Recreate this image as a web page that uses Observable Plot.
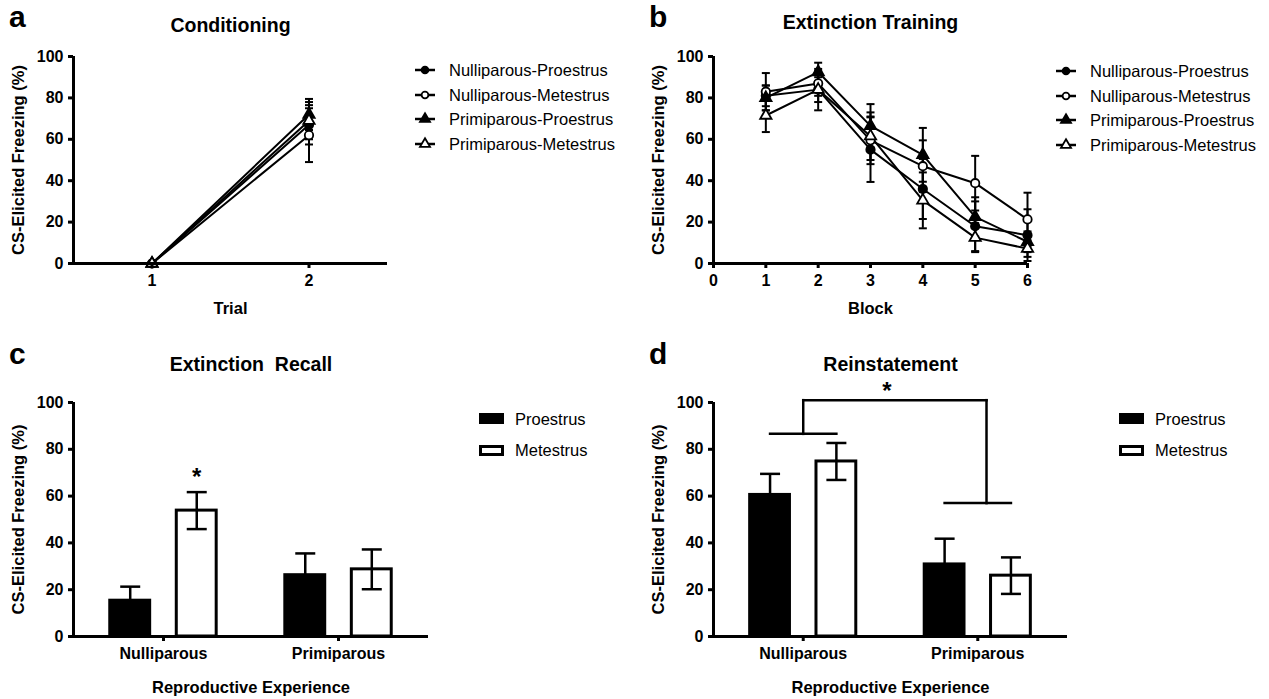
<!DOCTYPE html>
<html><head><meta charset="utf-8">
<script src="https://cdn.jsdelivr.net/npm/d3@7"></script>
<script src="https://cdn.jsdelivr.net/npm/@observablehq/plot@0.6"></script>
<style>
body{margin:0;background:#fff;}
#fig{position:relative;width:1269px;height:699px;background:#fff;font-family:'Liberation Sans',Arial,Helvetica,sans-serif;color:#000;overflow:hidden}
.panel{position:absolute}
.letter{position:absolute;font-weight:bold;font-size:30px;line-height:1}
.leg{position:absolute;font-size:16.5px;line-height:1}
.leg .row{display:flex;align-items:center;height:24.5px}
.bleg{position:absolute;font-size:16.5px;line-height:1}
.bleg .row{display:flex;align-items:center;height:31.5px}
.sw{box-sizing:border-box;width:25px;height:11px;border:3px solid #000;margin-right:11px}
</style></head><body><div id="fig"></div>
<script>
// ---------- data ----------
const seriesNames = ["Nulliparous-Proestrus", "Nulliparous-Metestrus", "Primiparous-Proestrus", "Primiparous-Metestrus"];
const yTicks = [0, 20, 40, 60, 80, 100];

// a: Conditioning
const trials = [1, 2];
const condMeans = [[0, 67], [0, 62], [0, 72], [0, 69]];
const condSems  = [[0, 9.5], [0, 13], [0, 7.5], [0, 9]];

// b: Extinction Training
const blocks = [1, 2, 3, 4, 5, 6];
const blockTicks = [0, 1, 2, 3, 4, 5, 6];
const extMeans = [
  [81, 84, 55, 36, 18, 13.7],
  [83, 87, 59.5, 47, 38.8, 21.3],
  [80, 92.5, 66.5, 52.5, 22.5, 10.5],
  [71.5, 84, 61.5, 30.5, 12.5, 7.2]
];
const extSems = [
  [5, 6, 15.6, 14.5, 12, 12.5],
  [9, 6, 11.5, 12.5, 13.2, 12.9],
  [6, 4.5, 10.5, 13, 9.5, 5],
  [8, 10, 11.5, 13.5, 7, 4]
];

// c, d: bars
const groups = ["Nulliparous", "Primiparous"];
const phases = ["Proestrus", "Metestrus"];
const recallMeans = [[15.3, 53.8], [26.2, 28.7]];
const recallSems  = [[6, 7.9], [9.3, 8.5]];
const reinstMeans = [[60.5, 74.8], [30.8, 26]];
const reinstSems  = [[9, 7.9], [11, 7.8]];
const recallStar = {group: "Nulliparous", phase: "Metestrus", y: 70.5};
const reinstBracket = {leftY: 86.6, topY: 101, rightY: 57, starY: 107.5};

// ---------- helpers ----------
const FONT = "'Liberation Sans', Arial, Helvetica, sans-serif";
const yLabel = "CS-Elicited Freezing (%)";
const hline = {draw(context, size) { const w = Math.sqrt(size / Math.PI); context.moveTo(-w, 0); context.lineTo(w, 0); }};
const symOf = name => name.startsWith("Nulliparous") ? "circle" : "triangle";
const fillOf = name => name.endsWith("Proestrus") ? "black" : "white";
const baseStyle = {fontFamily: FONT, fontWeight: "bold", color: "black", background: "white", overflow: "visible"};

function commonMarks(xDomain, xTicks, xTickFormat, title, titleDy, xLabel, xLabelDy) {
  return [
    Plot.axisY({ticks: yTicks, tickSize: 5, tickPadding: 5, strokeWidth: 3, fontSize: 16, label: null}),
    Plot.axisX({ticks: xTicks, tickSize: 5, tickPadding: 6, strokeWidth: 3, fontSize: 16, label: null, tickFormat: xTickFormat}),
    Plot.ruleX([xDomain[0]], {strokeWidth: 3}),
    Plot.ruleY([0], {strokeWidth: 3}),
    Plot.text([title], {text: d => d, frameAnchor: "top", dy: titleDy, fontSize: 19.5, lineAnchor: "middle"}),
    Plot.text([xLabel], {text: d => d, frameAnchor: "bottom", dy: xLabelDy, fontSize: 16.5, lineAnchor: "middle"}),
    Plot.text([yLabel], {text: d => d, frameAnchor: "left", rotate: -90, dx: -55, fontSize: 16.5, lineAnchor: "middle", textAnchor: "middle"})
  ];
}

function linePanel(xs, means, sems, xDomain, xTicks, title, titleDy, xLabel) {
  const rows = seriesNames.flatMap((s, si) => xs.map((x, i) => ({series: s, x, mean: means[si][i], sem: sems[si][i]})));
  const err = rows.filter(d => d.sem > 0);
  const marks = [
    Plot.line(rows, {x: "x", y: "mean", z: "series", stroke: "black", strokeWidth: 2}),
    Plot.ruleX(err, {x: "x", y1: d => d.mean - d.sem, y2: d => d.mean + d.sem, stroke: "black", strokeWidth: 2}),
    Plot.dot(err, {x: "x", y: d => d.mean + d.sem, symbol: hline, r: 4, fill: "none", stroke: "black", strokeWidth: 2}),
    Plot.dot(err, {x: "x", y: d => d.mean - d.sem, symbol: hline, r: 4, fill: "none", stroke: "black", strokeWidth: 2})
  ];
  seriesNames.forEach(s => {
    marks.push(Plot.dot(rows.filter(d => d.series === s), {x: "x", y: "mean", symbol: symOf(s), r: 4.2, fill: fillOf(s), stroke: "black", strokeWidth: 1.8}));
  });
  return Plot.plot({
    width: 400, height: 320, marginLeft: 73, marginRight: 13, marginTop: 56, marginBottom: 57,
    x: {domain: xDomain}, y: {domain: [0, 100]},
    style: baseStyle,
    marks: [...marks, ...commonMarks(xDomain, xTicks, d => String(d), title, titleDy, xLabel, 45)]
  });
}

const barOffset = 0.19, barHalf = 0.114;
function barPanel(means, sems, title, extra, marginRight) {
  const rows = groups.flatMap((g, gi) => phases.map((p, pi) => ({
    group: g, phase: p, gi: gi + 1, xc: gi + 1 + (pi === 0 ? -barOffset : barOffset), mean: means[gi][pi], sem: sems[gi][pi]
  })));
  const xDomain = [0.486, 2.514];
  const marks = [
    Plot.rectY(rows, {x1: d => d.xc - barHalf, x2: d => d.xc + barHalf, y1: 0, y2: "mean", fill: d => d.phase === "Proestrus" ? "black" : "white", stroke: "black", strokeWidth: 3}),
    Plot.ruleX(rows, {x: "xc", y1: d => d.mean - d.sem, y2: d => d.mean + d.sem, stroke: "black", strokeWidth: 2.5}),
    Plot.dot(rows, {x: "xc", y: d => d.mean + d.sem, symbol: hline, r: 10, fill: "none", stroke: "black", strokeWidth: 2.5}),
    Plot.dot(rows, {x: "xc", y: d => d.mean - d.sem, symbol: hline, r: 10, fill: "none", stroke: "black", strokeWidth: 2.5}),
    ...extra(rows)
  ];
  return Plot.plot({
    width: 440, height: 369, marginLeft: 73, marginRight, marginTop: 72, marginBottom: 63,
    x: {domain: xDomain}, y: {domain: [0, 100]}, color: {type: "identity"},
    style: baseStyle,
    marks: [...marks, ...commonMarks(xDomain, [1, 2], d => groups[d - 1], title, -38, "Reproductive Experience", 51)]
  });
}

// ---------- layout ----------
const fig = document.getElementById("fig");
function place(node, left, top) { const d = document.createElement("div"); d.className = "panel"; d.style.left = left + "px"; d.style.top = top + "px"; d.appendChild(node); fig.appendChild(d); return d; }
function letter(t, left, top) { const d = document.createElement("div"); d.className = "letter"; d.textContent = t; d.style.left = left + "px"; d.style.top = top + "px"; fig.appendChild(d); }

place(linePanel(trials, condMeans, condSems, [0.5, 2.5], trials, "Conditioning", -31, "Trial"), 0, 0);
place(linePanel(blocks, extMeans, extSems, [0, 6], blockTicks, "Extinction Training", -34, "Block"), 640, 0);

place(barPanel(recallMeans, recallSems, "Extinction\u00a0 Recall", rows => {
  const r = rows.find(d => d.group === recallStar.group && d.phase === recallStar.phase);
  return [Plot.text([recallStar], {x: () => r.xc, y: "y", text: () => "*", fontSize: 24, lineAnchor: "middle", dy: 6})];
}, 12), 0, 330);

place(barPanel(reinstMeans, reinstSems, "Reinstatement", rows => {
  const left = rows.filter(d => d.gi === 1), right = rows.filter(d => d.gi === 2);
  const segs = [
    {x1: left[0].xc, x2: left[1].xc, y1: reinstBracket.leftY, y2: reinstBracket.leftY},
    {x1: right[0].xc, x2: right[1].xc, y1: reinstBracket.rightY, y2: reinstBracket.rightY},
    {x1: 1, x2: 1, y1: reinstBracket.leftY, y2: reinstBracket.topY},
    {x1: 2.05, x2: 2.05, y1: reinstBracket.rightY, y2: reinstBracket.topY},
    {x1: 1, x2: 2.05, y1: reinstBracket.topY, y2: reinstBracket.topY}
  ];
  return [
    Plot.link(segs, {x1: "x1", x2: "x2", y1: "y1", y2: "y2", stroke: "black", strokeWidth: 2.5, strokeLinecap: "square"}),
    Plot.text([reinstBracket], {x: () => 1.48, y: "starY", text: () => "*", fontSize: 24, lineAnchor: "middle", dy: 6})
  ];
}, 13), 640, 330);

letter("a", 9, 2);
letter("b", 649, 2);
letter("c", 9, 339);
letter("d", 649, 339);

// line legends
function lineLegend(left, top) {
  const d = document.createElement("div"); d.className = "leg"; d.style.left = left + "px"; d.style.top = top + "px";
  seriesNames.forEach(s => {
    const sym = symOf(s) === "circle" ? d3.symbolCircle : d3.symbolTriangle;
    const size = symOf(s) === "circle" ? 36 : 44;
    const path = d3.symbol(sym, size)();
    const row = document.createElement("div"); row.className = "row";
    row.innerHTML = `<svg width="24" height="14" style="margin-right:12px;overflow:visible"><line x1="2" x2="22" y1="7" y2="7" stroke="black" stroke-width="2.5"/><path transform="translate(12,7)" d="${path}" fill="${fillOf(s)}" stroke="black" stroke-width="1.8"/></svg><span>${s}</span>`;
    d.appendChild(row);
  });
  fig.appendChild(d);
}
lineLegend(413, 58);
lineLegend(1054, 59);

function barLegend(left, top) {
  const d = document.createElement("div"); d.className = "bleg"; d.style.left = left + "px"; d.style.top = top + "px";
  phases.forEach(p => {
    const row = document.createElement("div"); row.className = "row";
    row.innerHTML = `<div class="sw" style="background:${p === "Proestrus" ? "black" : "white"}"></div><span>${p}</span>`;
    d.appendChild(row);
  });
  fig.appendChild(d);
}
barLegend(479, 403);
barLegend(1119, 403);
</script></body></html>
